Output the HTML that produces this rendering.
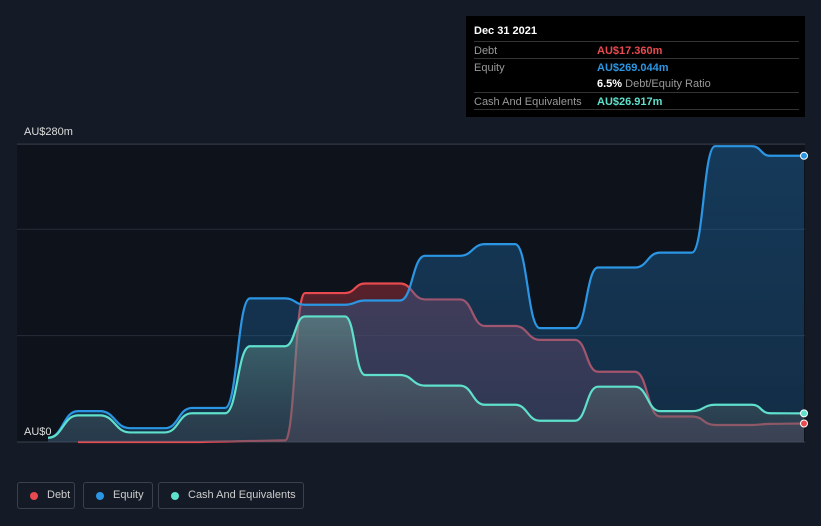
<!DOCTYPE html>
<html><head><meta charset="utf-8"><style>
body{margin:0;background:#151b26;font-family:"Liberation Sans",sans-serif;}
#wrap{position:relative;width:821px;height:526px;overflow:hidden;background:#151b26;}
#tip{position:absolute;left:466px;top:16px;width:339px;height:101px;background:#000;color:#fff;font-size:11px;}
#tip .r{position:absolute;left:8px;right:6px;height:17px;border-top:1px solid #333;}
#tip .l{position:absolute;left:0;top:3px;color:#999;}
#tip .v{position:absolute;left:123px;top:3px;font-weight:bold;}
.leg{position:absolute;top:482px;height:27px;border:1px solid #3a414d;border-radius:3px;color:#ccc;font-size:11px;box-sizing:border-box;}
.leg span.d{position:absolute;left:12px;top:9px;width:8px;height:8px;border-radius:50%;}
.leg span.t{position:absolute;left:29px;top:6px;}
</style></head><body>
<div id="wrap">
<svg id="svg" width="821" height="526" style="position:absolute;left:0;top:0"></svg>
<div id="tip">
 <div style="position:absolute;left:8px;top:9px;font-weight:bold;font-size:11px">Dec 31 2021</div>
 <div class="r" style="top:25px"><span class="l">Debt</span><span class="v" style="color:#e84a4f">AU$17.360m</span></div>
 <div class="r" style="top:42px"><span class="l">Equity</span><span class="v" style="color:#2b96e3">AU$269.044m</span></div>
 <div style="position:absolute;left:131px;top:62px"><b>6.5%</b> <span style="color:#999">Debt/Equity Ratio</span></div>
 <div class="r" style="top:76px"><span class="l">Cash And Equivalents</span><span class="v" style="color:#5fe0cc">AU$26.917m</span></div>
 <div class="r" style="top:93px;height:0"></div>
</div>
<div class="leg" style="left:17px;width:58px"><span class="d" style="background:#e84a4f"></span><span class="t">Debt</span></div>
<div class="leg" style="left:83px;width:70px"><span class="d" style="background:#2b96e3"></span><span class="t">Equity</span></div>
<div class="leg" style="left:158px;width:146px"><span class="d" style="background:#5fe0cc"></span><span class="t">Cash And Equivalents</span></div>
</div>
<script>
const dates=[15.483,15.741,15.931,16.19,16.491,16.724,17.009,17.224,17.526,17.698,18.043,18.216,18.517,18.733,19.034,19.25,19.509,19.724,20.026,20.224,20.543,20.759,21.034,21.233,21.552,21.707,22.0];
const equity=[4,29,29,13,13,32,32,135,135,129,129,133,133,175,175,186,186,107,107,164,164,178,178,278,278,269,269];
const debt=[null,0,0,0,0,0,0.5,1,1.5,140,140,149,149,134,134,109,109,96,96,66,66,24,24,16,16,17,17.4];
const cash=[4,25,25,9,9,27,27,90,90,118,118,63,63,53,53,35,35,20,20,52,52,29,29,35,35,27,26.9];
const yTicks=[0,100,200,280];
const xTicks=[2016,2017,2018,2019,2020,2021];
const NS='http://www.w3.org/2000/svg';
const svg=document.getElementById('svg');
const X=t=>108+(t-16)*116;
const Y=v=>442-v*1.064;
function mk(tag,attrs){const e=document.createElementNS(NS,tag);for(const k in attrs)e.setAttribute(k,attrs[k]);svg.appendChild(e);return e;}
const bg=mk('rect',{x:17,y:Y(280),width:788,height:Y(0)-Y(280),fill:'#0e121a'});


yTicks.forEach(v=>{const g=mk('line',{x1:17,x2:805,y1:Y(v),y2:Y(v),stroke:v===0||v===280?'#3a414d':'#262d39','stroke-width':1});

});
const l1=mk('text',{x:24,y:Y(280)-9,fill:'#ddd','font-size':11});l1.textContent='AU$280m';


const l0=mk('text',{x:24,y:Y(0)-7,fill:'#ddd','font-size':11});l0.textContent='AU$0';


xTicks.forEach(yr=>{const t=mk('text',{x:X(yr),y:460,fill:'#ccc','font-size':11,'text-anchor':'middle'});t.textContent=yr;


const k=mk('line',{x1:X(yr),x2:X(yr),y1:442,y2:447,stroke:'#3a414d'});

});
function pts(vals){const r=[];dates.forEach((d,i)=>{if(vals[i]!==null)r.push([X(d),Y(vals[i])]);});return r;}
function path(vals){const p=pts(vals);let d='M'+p[0][0]+','+p[0][1];
for(let i=1;i<p.length;i++){const m=(p[i-1][0]+p[i][0])/2;d+=' C'+m+','+p[i-1][1]+' '+m+','+p[i][1]+' '+p[i][0]+','+p[i][1];}return [d,p];}
const defs=mk('defs',{});
defs.innerHTML='<linearGradient id="ge" x1="0" y1="0" x2="0" y2="1"><stop offset="0" stop-color="#1e6aa8" stop-opacity="0.45"/><stop offset="1" stop-color="#1e6aa8" stop-opacity="0.3"/></linearGradient><linearGradient id="gd" x1="0" y1="0" x2="0" y2="1"><stop offset="0" stop-color="#8a2a35" stop-opacity="0.6"/><stop offset="1" stop-color="#6a3a4a" stop-opacity="0.4"/></linearGradient><linearGradient id="gc" x1="0" y1="0" x2="0" y2="1"><stop offset="0" stop-color="#6aa89c" stop-opacity="0.5"/><stop offset="1" stop-color="#555" stop-opacity="0.3"/></linearGradient>';
const series=[['debt',debt,'#e84a4f','url(#gd)'],['equity',equity,'#2b96e3','url(#ge)'],['cash',cash,'#5fe0cc','url(#gc)']];
const ends=[];
series.forEach(([n,v,c,f])=>{const [p,P]=path(v);
const a=mk('path',{d:p+' L'+P[P.length-1][0]+','+Y(0)+' L'+P[0][0]+','+Y(0)+'Z',fill:f});


const l=mk('path',{d:p,fill:'none',stroke:c,'stroke-width':2.2});


ends.push([n,P[P.length-1],c]);});
ends.forEach(([n,pt,c])=>{const dot=mk('circle',{cx:pt[0],cy:pt[1],r:3.5,fill:c,stroke:'#fff','stroke-width':1});

});
</script>
</body></html>
